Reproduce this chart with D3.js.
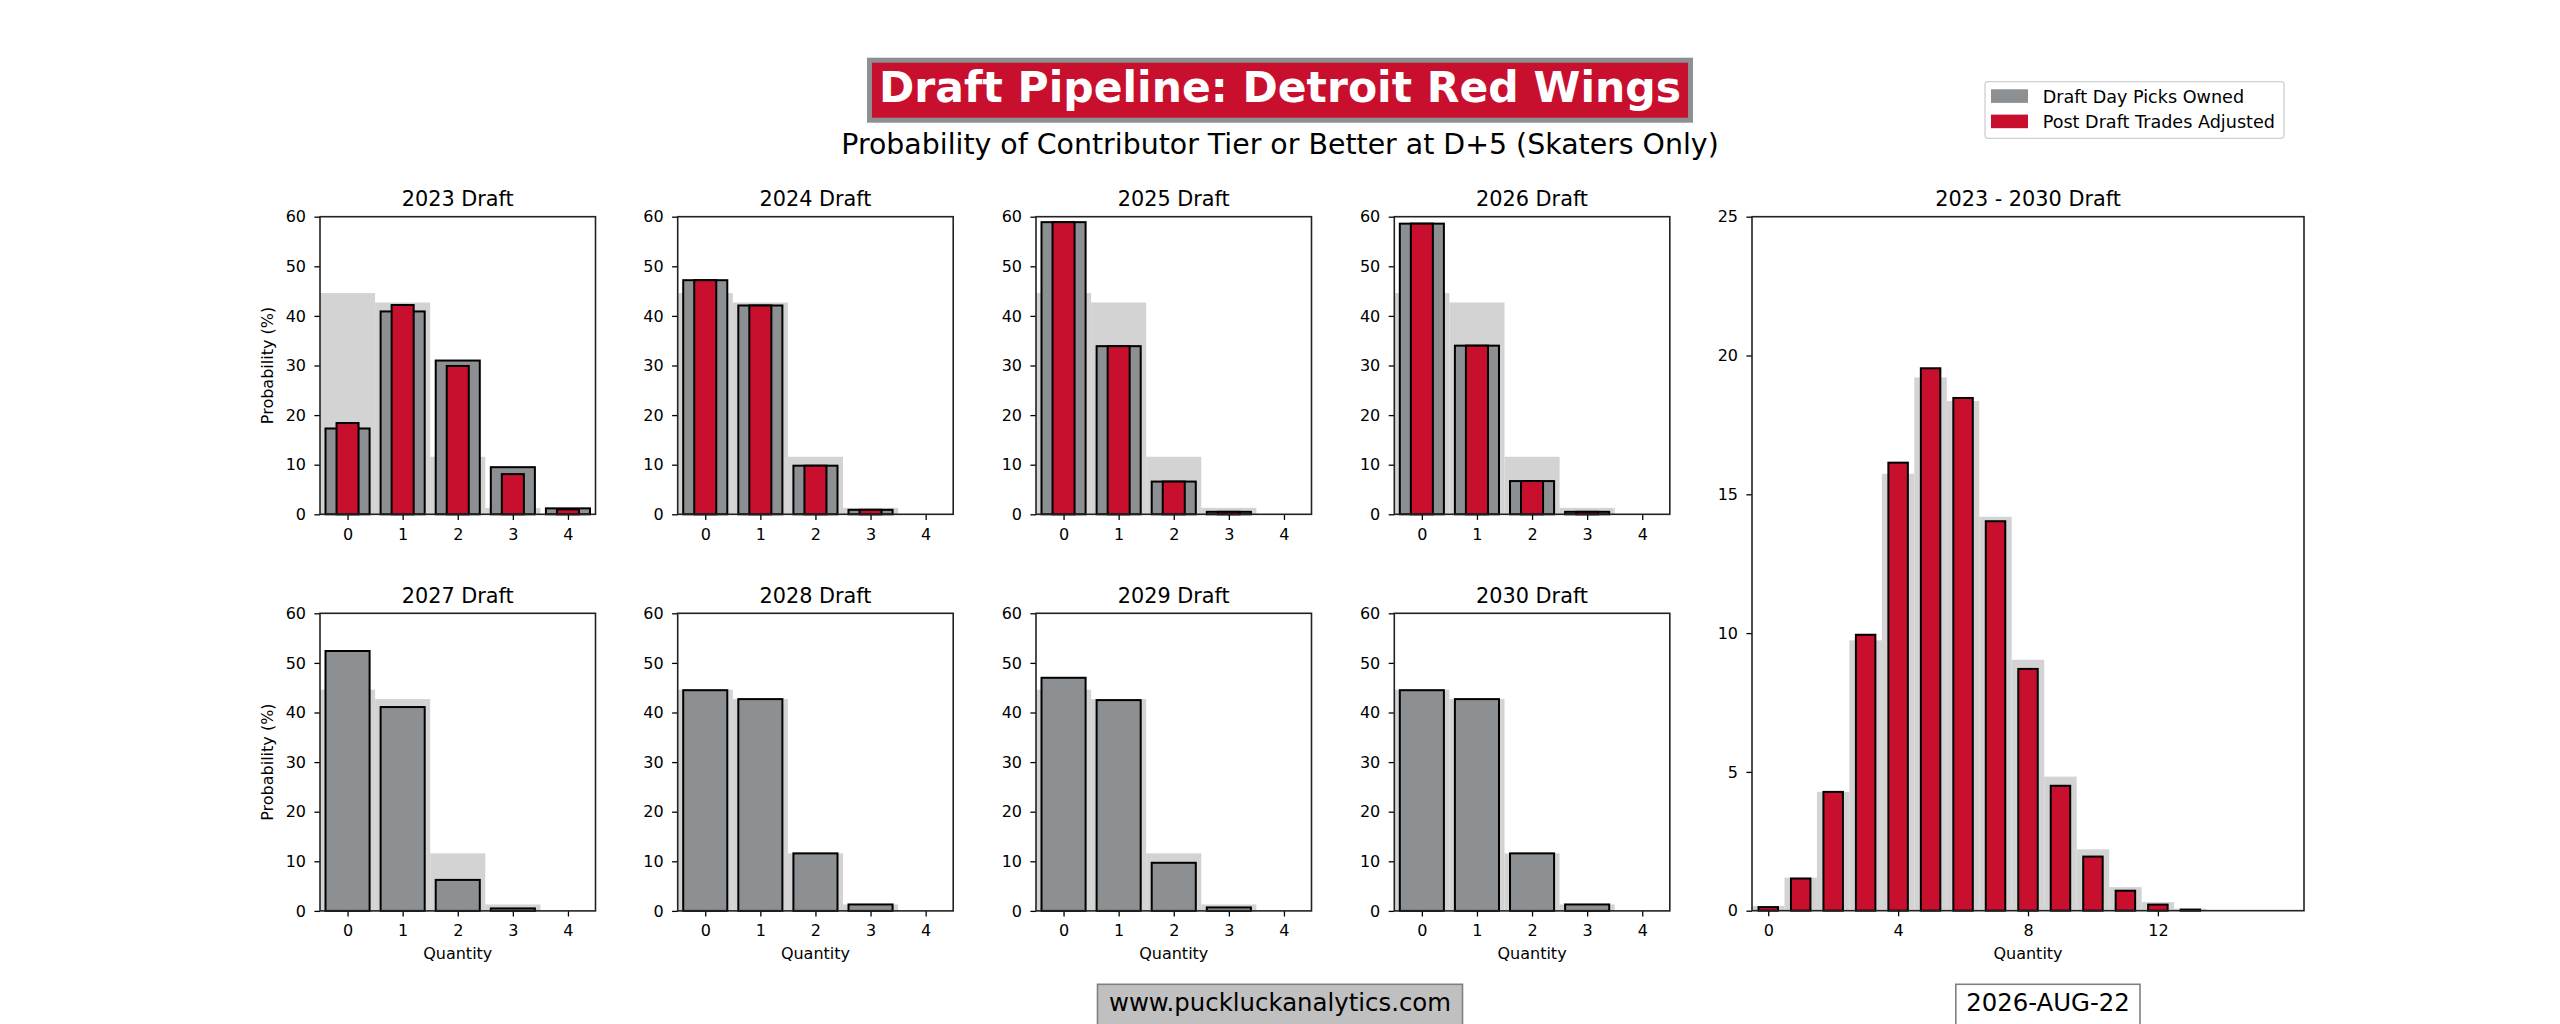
<!DOCTYPE html>
<html>
<head>
<meta charset="utf-8">
<script src="https://cdn.jsdelivr.net/npm/d3@7"></script>
<style>
  body { margin: 0; background: #fff; }
  text { font-family: "DejaVu Sans", sans-serif; }
</style>
</head>
<body>
<svg id="chart"></svg>
<script>
// data
const quantities = [0, 1, 2, 3, 4];
const draftYears = [2023, 2024, 2025, 2026, 2027, 2028, 2029, 2030];
const leagueAverage = [44.6, 42.7, 11.6, 1.3, 0.05];
const draftDayPicks = [
  [17.3, 40.9, 31.0, 9.5, 1.2],
  [47.2, 42.1, 9.8, 0.9, 0],
  [58.9, 33.9, 6.6, 0.5, 0],
  [58.6, 34.0, 6.7, 0.5, 0],
  [52.4, 41.1, 6.25, 0.5, 0],
  [44.5, 42.7, 11.6, 1.3, 0],
  [47.0, 42.5, 9.7, 0.7, 0],
  [44.5, 42.7, 11.6, 1.3, 0]
];
const postTradePicks = [
  [18.4, 42.2, 29.9, 8.1, 1.0],
  [47.2, 42.1, 9.8, 0.9, 0],
  [58.9, 33.9, 6.6, 0.5, 0],
  [58.6, 34.0, 6.7, 0.5, 0],
  null, null, null, null
];
const smallTicks = [0, 10, 20, 30, 40, 50, 60];

const totalQuantities = [0, 1, 2, 3, 4, 5, 6, 7, 8, 9, 10, 11, 12, 13, 14, 15, 16];
const totalLeague = [0.17, 1.19, 4.28, 9.74, 15.74, 19.21, 18.36, 14.19, 9.04, 4.83, 2.21, 0.85, 0.31, 0.07, 0.02, 0, 0];
const totalTrades = [0.13, 1.16, 4.28, 9.94, 16.14, 19.54, 18.47, 14.03, 8.71, 4.50, 1.95, 0.72, 0.22, 0.04, 0, 0, 0];
const totalXTicks = [0, 4, 8, 12];
const totalYTicks = [0, 5, 10, 15, 20, 25];

const width = 2560;
const height = 1024;
const red = '#c8102e';
const gray = '#8d9093';
const light = '#d3d3d3';

const svg = d3.select('#chart').attr('width', width).attr('height', height);

// panel geometry
const panelW = 275.5;
const colLeft = [320, 677.7, 1036, 1394.3];
const rowTop = [216.7, 613.3];
const panelH = 297.6;

function drawAxes(g, x, y, xTicks, yTicks, left, top, w, h) {
  const xa = g.append('g').attr('transform', `translate(0,${top + h})`)
    .call(d3.axisBottom(x).tickValues(xTicks).tickFormat(d3.format('d'))
      .tickSize(5.6).tickPadding(8.4).tickSizeOuter(0));
  const ya = g.append('g').attr('transform', `translate(${left},0)`)
    .call(d3.axisLeft(y).tickValues(yTicks).tickFormat(d3.format('d'))
      .tickSize(5.6).tickPadding(8.4).tickSizeOuter(0));
  [xa, ya].forEach(a => {
    a.select('.domain').remove();
    a.attr('font-size', 16).attr('font-family', '"DejaVu Sans", sans-serif');
    a.selectAll('line').attr('stroke', '#000').attr('stroke-width', 1.3);
    a.selectAll('text').attr('fill', '#000');
  });
  g.append('rect').attr('x', left).attr('y', top).attr('width', w).attr('height', h)
    .attr('fill', 'none').attr('stroke', '#222').attr('stroke-width', 1.6);
}

function bars(g, x, y, values, cats, barW, fill, stroke) {
  g.selectAll(null).data(cats).enter().append('rect')
    .attr('x', d => x(d - barW / 2))
    .attr('width', d => x(d + barW / 2) - x(d - barW / 2))
    .attr('y', (d, i) => y(values[i]))
    .attr('height', (d, i) => y(0) - y(values[i]))
    .attr('fill', fill)
    .attr('stroke', stroke ? '#000' : 'none')
    .attr('stroke-width', 2);
}

draftYears.forEach((year, k) => {
  const col = k % 4, row = Math.floor(k / 4);
  const left = colLeft[col], top = rowTop[row];
  const x = d3.scaleLinear().domain([-0.5, 4.5]).range([left, left + panelW]);
  const y = d3.scaleLinear().domain([0, 60]).range([top + panelH, top]);
  const g = svg.append('g');

  bars(g, x, y, leagueAverage, quantities, 1, light, false);
  bars(g, x, y, draftDayPicks[k], quantities, 0.8, gray, true);
  if (postTradePicks[k]) bars(g, x, y, postTradePicks[k], quantities, 0.4, red, true);
  drawAxes(g, x, y, quantities, smallTicks, left, top, panelW, panelH);

  g.append('text').attr('x', left + panelW / 2).attr('y', top - 10.5)
    .attr('text-anchor', 'middle').attr('font-size', 20.8).text(year + ' Draft');
  if (col === 0) {
    g.append('text').attr('transform', `translate(${left - 47.5},${top + panelH / 2}) rotate(-90)`)
      .attr('text-anchor', 'middle').attr('font-size', 16).text('Probability (%)');
  }
  if (row === 1) {
    g.append('text').attr('x', left + panelW / 2).attr('y', top + panelH + 48)
      .attr('text-anchor', 'middle').attr('font-size', 16).text('Quantity');
  }
});

// combined panel
{
  const left = 1752, top = 216.7, w = 552, h = 694;
  const x = d3.scaleLinear().domain([-0.5, 16.5]).range([left, left + w]);
  const y = d3.scaleLinear().domain([0, 25]).range([top + h, top]);
  const g = svg.append('g');
  bars(g, x, y, totalLeague, totalQuantities, 1, light, false);
  bars(g, x, y, totalTrades, totalQuantities, 0.6, red, true);
  drawAxes(g, x, y, totalXTicks, totalYTicks, left, top, w, h);
  g.append('text').attr('x', left + w / 2).attr('y', top - 10.5)
    .attr('text-anchor', 'middle').attr('font-size', 20.8).text('2023 - 2030 Draft');
  g.append('text').attr('x', left + w / 2).attr('y', top + h + 48)
    .attr('text-anchor', 'middle').attr('font-size', 16).text('Quantity');
}

// title
svg.append('rect').attr('x', 869.5).attr('y', 60.2).attr('width', 821).attr('height', 60)
  .attr('fill', red).attr('stroke', gray).attr('stroke-width', 5);
svg.append('text').attr('x', 1280).attr('y', 101.7).attr('text-anchor', 'middle')
  .attr('font-size', 42.5).attr('font-weight', 'bold').attr('fill', '#fff')
  .text('Draft Pipeline: Detroit Red Wings');
svg.append('text').attr('x', 1280).attr('y', 154).attr('text-anchor', 'middle')
  .attr('font-size', 28.4).text('Probability of Contributor Tier or Better at D+5 (Skaters Only)');

// legend
const legendItems = [
  { label: 'Draft Day Picks Owned', color: gray },
  { label: 'Post Draft Trades Adjusted', color: red }
];
const legend = svg.append('g');
legend.append('rect').attr('x', 1985).attr('y', 81.7).attr('width', 299).attr('height', 56.6)
  .attr('rx', 3).attr('fill', '#fff').attr('stroke', '#d0d0d0').attr('stroke-width', 1.3);
legendItems.forEach((d, i) => {
  legend.append('rect').attr('x', 1991).attr('y', 89.3 + i * 25.3).attr('width', 37).attr('height', 13.6)
    .attr('fill', d.color);
  legend.append('text').attr('x', 2042.7).attr('y', 102.7 + i * 25.6)
    .attr('font-size', 17.6).text(d.label);
});

// footer
svg.append('rect').attr('x', 1097.5).attr('y', 984.3).attr('width', 365).attr('height', 60)
  .attr('fill', '#c0c0c0').attr('stroke', '#808080').attr('stroke-width', 1.6);
svg.append('text').attr('x', 1280).attr('y', 1011).attr('text-anchor', 'middle')
  .attr('font-size', 24.4).text('www.puckluckanalytics.com');
svg.append('rect').attr('x', 1955.8).attr('y', 984.3).attr('width', 184.2).attr('height', 60)
  .attr('fill', '#fff').attr('stroke', '#808080').attr('stroke-width', 1.6);
svg.append('text').attr('x', 2048).attr('y', 1011).attr('text-anchor', 'middle')
  .attr('font-size', 24.4).text('2026-AUG-22');
</script>
</body>
</html>
